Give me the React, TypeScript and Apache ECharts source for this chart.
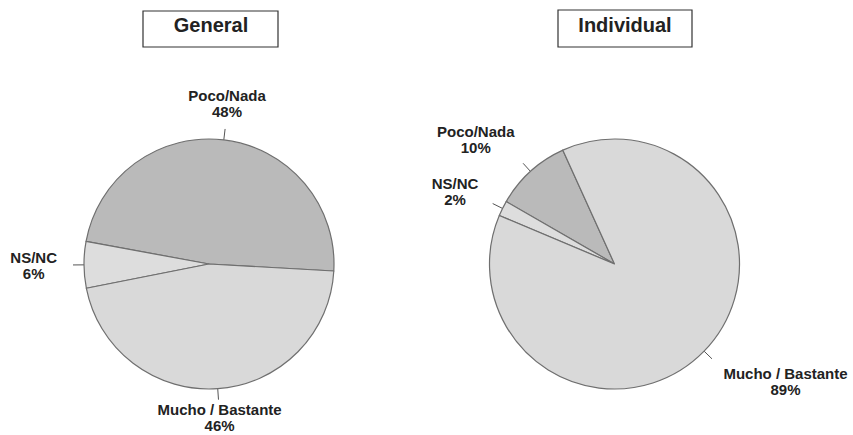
import React, { useEffect, useRef } from 'react';
import * as echarts from 'echarts';

const categories = ['Poco/Nada', 'NS/NC', 'Mucho / Bastante'];
const generalValues = [48, 6, 46];
const individualValues = [10, 2, 89];
const titles = ['General', 'Individual'];
const sliceColors = ['#bababa', '#dddddd', '#d9d9d9'];

const FONT = '"Liberation Sans", Arial, Helvetica, sans-serif';

function shape(t: number) {
  const a = Math.min(1, Math.max(0, (Math.abs(t) - 0.2) * 2));
  return Math.sign(t) * a;
}

function layoutFn(params: any) {
  const pts = params.labelLinePoints;
  if (!pts || pts.length < 2) return {};
  const p0 = pts[0];
  const p1 = pts[1];
  let dx = p1[0] - p0[0];
  let dy = p1[1] - p0[1];
  const len = Math.hypot(dx, dy) || 1;
  dx /= len;
  dy /= len;
  const w = params.labelRect.width;
  const h = params.labelRect.height;
  const gx = 16 * dx;
  const gy = dy > 0.9 ? 1.5 : 10 * dy;
  return {
    x: p1[0] + shape(dx) * (w / 2) + gx,
    y: p1[1] + shape(dy) * (h / 2) + gy,
    align: 'center',
    verticalAlign: 'middle',
    labelLinePoints: [p0, p1, p1],
  };
}

function pieSeries(values: number[], center: number[], startAngle: number) {
  return {
    type: 'pie',
    center,
    radius: 125,
    startAngle,
    clockwise: false,
    avoidLabelOverlap: false,
    silent: true,
    emphasis: { disabled: true },
    data: categories.map((n, i) => ({
      name: n,
      value: values[i],
      itemStyle: { color: sliceColors[i] },
    })),
    itemStyle: { borderColor: '#6f6f6f', borderWidth: 1.2 },
    label: {
      show: true,
      position: 'outside',
      formatter: '{b}\n{c}%',
      fontSize: 15,
      fontWeight: 'bold',
      color: '#222',
      lineHeight: 16,
      align: 'center',
      fontFamily: FONT,
    },
    labelLine: {
      show: true,
      length: 11,
      length2: 0,
      lineStyle: { color: '#555', width: 1 },
    },
    labelLayout: layoutFn,
  };
}

export default function App() {
  const ref = useRef<HTMLDivElement>(null);
  useEffect(() => {
    if (!ref.current) return;
    const chart = echarts.init(ref.current, null, { renderer: 'svg' });
    chart.setOption({
      animation: false,
      backgroundColor: '#ffffff',
      graphic: [
        {
          type: 'rect',
          shape: { x: 143, y: 11, width: 135, height: 36 },
          style: { fill: '#fff', stroke: '#333', lineWidth: 1.2 },
        },
        {
          type: 'text',
          x: 211,
          y: 25,
          style: {
            text: titles[0],
            fontSize: 20,
            fontWeight: 'bold',
            fontFamily: FONT,
            fill: '#222',
            align: 'center',
            verticalAlign: 'middle',
          },
        },
        {
          type: 'rect',
          shape: { x: 558, y: 10, width: 134, height: 37 },
          style: { fill: '#fff', stroke: '#333', lineWidth: 1.2 },
        },
        {
          type: 'text',
          x: 625,
          y: 25,
          style: {
            text: titles[1],
            fontSize: 20,
            fontWeight: 'bold',
            fontFamily: FONT,
            fill: '#222',
            align: 'center',
            verticalAlign: 'middle',
          },
        },
      ],
      series: [
        pieSeries(generalValues, [209, 264], -3.2),
        pieSeries(individualValues, [614.5, 264], 114.4),
      ],
    });
    return () => chart.dispose();
  }, []);
  return (
    <div
      ref={ref}
      style={{ position: 'absolute', left: 0, top: 0, width: 853, height: 435 }}
    />
  );
}
